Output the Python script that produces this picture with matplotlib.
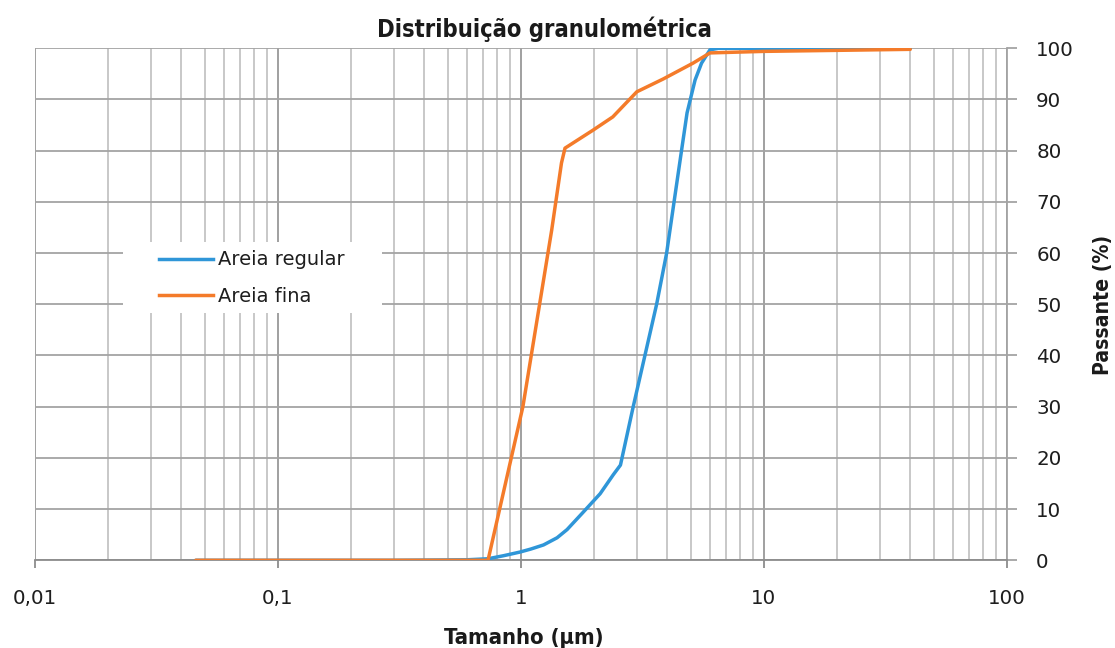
import matplotlib
matplotlib.use("Agg")
import matplotlib.pyplot as plt
from matplotlib.patches import Rectangle
from matplotlib.ticker import LogLocator, FixedLocator, NullFormatter
from matplotlib.lines import Line2D

# ---- data ----
regular_x = [0.046, 0.3, 0.6, 0.733, 0.85, 0.99, 1.1, 1.24, 1.41, 1.55, 1.79, 2.12,
             2.40, 2.57, 2.90, 3.24, 3.62, 3.98, 4.27, 4.55, 4.83, 5.21,
             5.54, 6.0, 6.5, 40]
regular_y = [0.0, 0.0, 0.1, 0.3, 0.9, 1.6, 2.2, 3.0, 4.4, 6.0, 9.2, 13.0,
             16.7, 18.6, 30.0, 40.0, 50.0, 60.0, 70.0, 79.0, 87.4, 93.8,
             97.1, 99.7, 100.0, 100.0]

fina_x = [0.046, 0.3, 0.733, 1.02, 1.34, 1.47, 1.52, 1.98, 2.39, 3.00, 3.85,
          5.11, 6.00, 10, 40]
fina_y = [0.0, 0.0, 0.0, 30.0, 64.5, 77.6, 80.5, 84.0, 86.6, 91.5, 94.0,
          97.1, 99.1, 99.4, 99.8]

x_ticks = [0.01, 0.1, 1, 10, 100]
x_labels = ["0,01", "0,1", "1", "10", "100"]
y_ticks = [0, 10, 20, 30, 40, 50, 60, 70, 80, 90, 100]

title = "Distribuição granulométrica"
xlabel = "Tamanho (µm)"
ylabel = "Passante (%)"
series_names = ["Areia regular", "Areia fina"]

blue = "#2f96d8"
orange = "#f47b2a"

W, H = 1115, 648
fig = plt.figure(figsize=(W / 100, H / 100), dpi=100)
L, R, T, B = 34.6, 1007, 48.3, 560.3
ax = fig.add_axes([L / W, 1 - B / H, (R - L) / W, (B - T) / H])

ax.set_xscale("log")
ax.set_xlim(0.01, 100)
ax.set_ylim(0, 100)

ax.set_axisbelow(True)
ax.xaxis.set_major_locator(FixedLocator(x_ticks))
ax.set_xticklabels(x_labels)
ax.xaxis.set_minor_locator(LogLocator(base=10, subs=range(2, 10)))
ax.xaxis.set_minor_formatter(NullFormatter())
ax.yaxis.set_major_locator(FixedLocator(y_ticks))

ax.grid(which="major", axis="x", color="#999999", lw=1.3)
ax.grid(which="minor", axis="x", color="#c4c4c4", lw=1.3)
ax.grid(which="major", axis="y", color="#a4a4a4", lw=1.3)

for s in ["top", "left"]:
    ax.spines[s].set_visible(False)
ax.spines["bottom"].set_color("#8c8c8c")
ax.spines["bottom"].set_linewidth(1.3)
ax.spines["right"].set_color("#a4a4a4")
ax.spines["right"].set_linewidth(1.3)

ax.yaxis.tick_right()
ax.tick_params(axis="x", which="major", direction="out", length=6, width=1.3,
               color="#8c8c8c", pad=14.5, labelsize=14.3)
ax.tick_params(axis="x", which="minor", length=0)
ax.tick_params(axis="y", which="major", direction="out", length=7, width=1.3,
               color="#a4a4a4", pad=14, labelsize=14.3, left=False, right=True)
for lab in ax.get_xticklabels() + ax.get_yticklabels():
    lab.set_fontfamily("DejaVu Sans")
    lab.set_color("#1e1e1e")

ax.plot(regular_x, regular_y, color=blue, lw=2.5, zorder=3,
        solid_joinstyle="round", solid_capstyle="round")
ax.plot(fina_x, fina_y, color=orange, lw=2.5, zorder=4,
        solid_joinstyle="round", solid_capstyle="round")

# legend box
bx0, bx1, by0, by1 = 123, 382, 242, 313
ax.add_patch(Rectangle(((bx0 - L) / (R - L), (B - by1) / (B - T)),
                       (bx1 - bx0) / (R - L), (by1 - by0) / (B - T),
                       transform=ax.transAxes, facecolor="white",
                       edgecolor="none", zorder=1.5))
handles = [Line2D([], [], color=blue, lw=2.5), Line2D([], [], color=orange, lw=2.5)]
leg = ax.legend(handles, series_names, loc="upper left",
                bbox_to_anchor=((159 - L) / (R - L), (B - 250.5) / (B - T)),
                frameon=False, prop=dict(family="DejaVu Sans", size=14),
                handlelength=2.78, handletextpad=0.26, labelspacing=0.9,
                borderpad=0.0, borderaxespad=0.0)
for t in leg.get_texts():
    t.set_color("#1e1e1e")

bold = dict(family="DejaVu Sans", stretch="condensed", weight="bold")
fig.text(544 / W, 1 - 37.3 / H, title, ha="center", va="baseline", color="#1a1a1a",
         size=17, **bold)
fig.text(524 / W, 1 - 643.5 / H, xlabel, ha="center", va="baseline", color="#1a1a1a",
         size=15.8, **bold)
fig.text(1103 / W, 1 - 305 / H, ylabel, ha="center", va="center", rotation=90,
         color="#1a1a1a", size=15.2, **bold)

fig.savefig("out.png", dpi=100, facecolor="white")
